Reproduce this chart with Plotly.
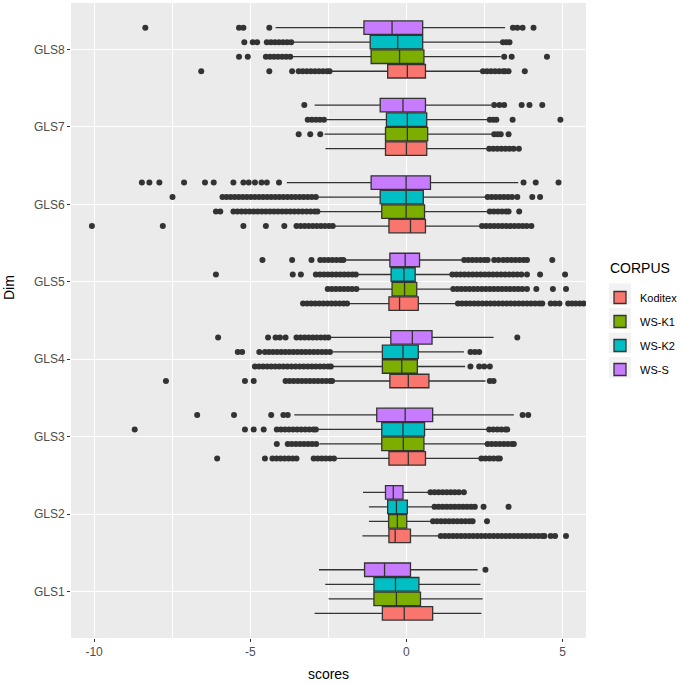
import plotly.graph_objects as go

dims = ["GLS1", "GLS2", "GLS3", "GLS4", "GLS5", "GLS6", "GLS7", "GLS8"]
corpora = ["Koditex", "WS-K1", "WS-K2", "WS-S"]
fill_colors = ["#F8766D", "#7CAE00", "#00BFC4", "#C77CFF"]

# box statistics per corpus, ordered GLS1..GLS8
koditex_q1 = [-0.77, -0.56, -0.56, -0.53, -0.56, -0.56, -0.67, -0.60]
koditex_med = [-0.07, -0.36, 0.06, 0.06, -0.22, 0.13, 0.00, 0.03]
koditex_q3 = [0.84, 0.13, 0.61, 0.72, 0.38, 0.61, 0.65, 0.61]
koditex_lo = [-2.94, -1.41, -2.27, -2.34, -1.85, -2.30, -2.59, -2.41]
koditex_hi = [2.40, 1.07, 2.33, 2.53, 1.60, 2.37, 2.60, 2.40]

wsk1_q1 = [-1.04, -0.57, -0.79, -0.77, -0.46, -0.79, -0.67, -1.13]
wsk1_med = [-0.32, -0.29, -0.10, -0.15, -0.06, -0.01, 0.03, -0.22]
wsk1_q3 = [0.45, 0.01, 0.56, 0.35, 0.33, 0.58, 0.68, 0.56]
wsk1_lo = [-2.49, -1.20, -2.79, -2.38, -1.55, -2.80, -2.62, -3.66]
wsk1_hi = [2.44, 0.79, 2.53, 1.88, 1.45, 2.60, 2.72, 3.02]

wsk2_q1 = [-1.04, -0.60, -0.79, -0.77, -0.49, -0.84, -0.64, -1.16]
wsk2_med = [-0.35, -0.32, -0.11, -0.11, -0.08, -0.01, 0.03, -0.28]
wsk2_q3 = [0.40, 0.03, 0.58, 0.38, 0.28, 0.54, 0.65, 0.52]
wsk2_lo = [-2.60, -1.20, -2.86, -2.38, -1.57, -2.86, -2.55, -3.64]
wsk2_hi = [2.37, 0.84, 2.60, 1.84, 1.42, 2.53, 2.60, 3.02]

wss_q1 = [-1.34, -0.67, -0.95, -0.50, -0.53, -1.13, -0.84, -1.36]
wss_med = [-0.70, -0.42, -0.04, 0.19, -0.04, -0.01, -0.11, -0.46]
wss_q3 = [0.13, -0.11, 0.84, 0.82, 0.42, 0.77, 0.61, 0.52]
wss_lo = [-2.80, -1.39, -3.59, -2.45, -1.99, -3.83, -2.94, -4.19]
wss_hi = [2.28, 0.72, 3.44, 2.79, 1.80, 3.58, 2.72, 3.16]

# outliers per corpus, one list per dimension GLS1..GLS8
koditex_out = [
    [],
    [1.1, 1.23, 1.36, 1.49, 1.62, 1.75, 1.88, 2.01, 2.14, 2.27, 2.4, 2.53, 2.66, 2.79, 2.92, 3.05, 3.18,
     3.31, 3.44, 3.57, 3.7, 3.83, 3.96, 4.09, 4.22, 4.35, 4.42, 4.62, 4.76, 5.11],
    [-6.06, -4.53, -4.29, -4.16, -4.03, -3.9, -3.77, -3.64, -3.52, -2.97, -2.84, -2.71, -2.58, -2.45, -2.32,
     2.40, 2.53, 2.66, 2.79, 2.92, 2.99],
    [-7.70, -5.17, -4.89, -3.87, -3.74, -3.61, -3.48, -3.35, -3.22, -3.09, -2.96, -2.83, -2.7, -2.57, -2.44,
     -2.38, 2.67, 2.79],
    [-3.31, -3.18, -3.05, -2.92, -2.79, -2.66, -2.53, -2.4, -2.27, -2.14, -2.01, -1.9,
     1.65, 1.78, 1.91, 2.04, 2.17, 2.3, 2.43, 2.56, 2.69, 2.82, 2.95, 3.08, 3.21, 3.34, 3.47, 3.6, 3.73,
     3.86, 3.99, 4.12, 4.25, 4.35, 4.62, 4.76, 4.90, 5.18, 5.3, 5.42, 5.55, 5.67],
    [-10.07, -7.80, -5.22, -4.5, -3.91, -3.52, -3.39, -3.26, -3.13, -3.0, -2.87, -2.74, -2.61, -2.48, -2.36,
     2.42, 2.55, 2.68, 2.81, 2.94, 3.07, 3.2, 3.33, 3.46, 3.59, 3.72, 3.85, 4.0],
    [2.65, 2.78, 2.91, 3.04, 3.17, 3.3, 3.43, 3.6],
    [-6.57, -4.39, -3.66, -3.45, -3.32, -3.19, -3.06, -2.93, -2.8, -2.67, -2.54, -2.46,
     2.45, 2.58, 2.71, 2.84, 2.97, 3.1, 3.16, 3.27, 3.79],
]
wsk1_out = [
    [],
    [0.85, 0.98, 1.11, 1.24, 1.37, 1.5, 1.63, 1.76, 1.89, 2.02, 2.12, 2.58],
    [-4.15, -3.80, -3.67, -3.54, -3.41, -3.28, -3.15, -3.02, -2.89,
     2.6, 2.73, 2.86, 2.99, 3.12, 3.25, 3.38, 3.44],
    [-4.85, -4.72, -4.59, -4.46, -4.33, -4.2, -4.07, -3.94, -3.81, -3.68, -3.55, -3.42, -3.29, -3.16, -3.03,
     -2.9, -2.77, -2.64, -2.51, -2.42, 2.05, 2.33, 2.49, 2.67],
    [-2.52, -2.39, -2.26, -2.13, -2.0, -1.87, -1.74, -1.6,
     1.5, 1.63, 1.76, 1.89, 2.02, 2.15, 2.28, 2.41, 2.54, 2.67, 2.8, 2.93, 3.06, 3.19, 3.32, 3.45, 3.58,
     3.71, 3.86, 4.16, 4.69, 5.11],
    [-6.10, -5.96, -5.54, -5.41, -5.28, -5.15, -5.02, -4.89, -4.76, -4.63, -4.5, -4.37, -4.24, -4.11, -3.98,
     -3.85, -3.72, -3.59, -3.46, -3.33, -3.2, -3.07, -2.94, -2.85,
     2.67, 2.8, 2.93, 3.06, 3.19, 3.27, 3.61],
    [-3.45, -3.08, -2.76, 2.81, 2.92, 3.02, 3.27],
    [-5.36, -5.08, -4.50, -4.37, -4.24, -4.11, -3.98, -3.85, -3.72, 3.13, 3.37, 4.50],
]
wsk2_out = [
    [],
    [0.9, 1.03, 1.16, 1.29, 1.42, 1.55, 1.68, 1.81, 1.94, 2.07, 2.19, 2.47, 3.27],
    [-8.70, -5.17, -4.89, -4.57, -4.15, -4.02, -3.89, -3.76, -3.63, -3.5, -3.37, -3.24, -3.11, -2.98, -2.9,
     2.65, 2.78, 2.91, 3.04, 3.17, 3.23],
    [-5.40, -5.26, -4.71, -4.53, -4.4, -4.27, -4.14, -4.01, -3.88, -3.75, -3.62, -3.49, -3.36, -3.23, -3.1,
     -2.97, -2.84, -2.71, -2.58, -2.45, 2.05, 2.19, 2.33],
    [-6.10, -3.64, -3.38, -2.90, -2.77, -2.64, -2.51, -2.38, -2.25, -2.12, -1.99, -1.86, -1.73, -1.62,
     1.47, 1.6, 1.73, 1.86, 1.99, 2.12, 2.25, 2.38, 2.51, 2.64, 2.77, 2.9, 3.03, 3.16, 3.29, 3.42, 3.55,
     3.68, 3.86, 4.28, 5.08],
    [-7.49, -5.89, -5.76, -5.63, -5.5, -5.37, -5.24, -5.11, -4.98, -4.85, -4.72, -4.59, -4.46, -4.33, -4.2,
     -4.07, -3.94, -3.81, -3.68, -3.55, -3.42, -3.29, -3.16, -3.03, -2.9,
     2.6, 2.73, 2.86, 2.99, 3.12, 3.25, 3.38, 3.55, 4.03, 4.28],
    [-3.16, -3.03, -2.9, -2.77, -2.64, 2.67, 2.78, 2.88, 3.40, 4.93],
    [-5.19, -4.92, -4.78, -4.47, -4.34, -4.21, -4.08, -3.95, -3.82, -3.69, 3.09, 3.2, 3.30],
]
wss_out = [
    [2.53],
    [0.77, 0.9, 1.03, 1.16, 1.29, 1.42, 1.55, 1.68, 1.84],
    [-6.70, -5.52, -4.33, -3.94, -3.80, 3.72, 3.90],
    [-6.03, -4.43, -4.19, -4.05, -3.87, -3.52, -3.39, -3.26, -3.13, -3.0, -2.87, -2.74, -2.61, -2.5, 3.55],
    [-4.61, -3.66, -3.04, -2.76, -2.63, -2.5, -2.37, -2.24, -2.11, -2.02,
     1.85, 1.98, 2.11, 2.24, 2.37, 2.5, 2.6, 2.81, 2.95, 3.1, 3.23, 3.36, 3.49, 3.62, 3.75, 3.86, 4.67],
    [-8.47, -8.23, -7.91, -7.12, -6.45, -6.17, -5.54, -5.22, -5.05, -4.85, -4.64, -4.47, -4.08,
     3.75, 4.14, 4.87],
    [-3.27, 2.81, 2.98, 3.13, 3.69, 3.94, 4.35],
    [-8.36, -5.36, -5.22, -4.39, 3.41, 3.55, 3.72, 4.07],
]

stats = [
    (koditex_q1, koditex_med, koditex_q3, koditex_lo, koditex_hi, koditex_out),
    (wsk1_q1, wsk1_med, wsk1_q3, wsk1_lo, wsk1_hi, wsk1_out),
    (wsk2_q1, wsk2_med, wsk2_q3, wsk2_lo, wsk2_hi, wsk2_out),
    (wss_q1, wss_med, wss_q3, wss_lo, wss_hi, wss_out),
]

n_groups = len(corpora)
dodge_total = 0.75
slot = dodge_total / n_groups
box_w = slot * 0.93
base = list(range(1, len(dims) + 1))

fig = go.Figure()
for k, (name, col, st) in enumerate(zip(corpora, fill_colors, stats)):
    q1, med, q3, lo, hi, outs = st
    off = -dodge_total / 2 + slot * (k + 0.5)
    pos = [b + off for b in base]
    fig.add_trace(go.Box(
        name=name, y=pos, q1=q1, median=med, q3=q3, lowerfence=lo, upperfence=hi,
        orientation="h", width=box_w, fillcolor=col,
        line=dict(color="#333333", width=1.3), whiskerwidth=0,
        boxpoints=False, legendgroup=name, hoverinfo="skip",
    ))
    ox, oy = [], []
    for b, vals in zip(base, outs):
        ox.extend(vals)
        oy.extend([b + off] * len(vals))
    fig.add_trace(go.Scatter(
        x=ox, y=oy, mode="markers", showlegend=False, legendgroup=name,
        marker=dict(color="#333333", size=6, line=dict(width=0)), hoverinfo="skip",
    ))

# light grey legend key backgrounds (ggplot style), in paper coordinates
W, H, ML, MB, MT = 682, 685, 71, 47, 3
pw, ph = W - ML - 96, H - MB - MT
key_shapes = []
for yc in [294, 318.5, 343, 367.5]:
    key_shapes.append(dict(
        type="rect", xref="paper", yref="paper", layer="below",
        x0=(609 - ML) / pw, x1=(631 - ML) / pw,
        y0=(H - MB - (yc - 10.5)) / ph, y1=(H - MB - (yc + 10.5)) / ph,
        fillcolor="#F2F2F2", line=dict(width=0),
    ))

fig.update_layout(
    width=W, height=H,
    margin=dict(l=ML, r=96, t=MT, b=MB, autoexpand=False),
    paper_bgcolor="white", plot_bgcolor="#EBEBEB",
    font=dict(family="Liberation Sans, Arial, sans-serif", color="#4D4D4D", size=12),
    boxmode="overlay",
    showlegend=True,
    legend=dict(
        x=(600 - ML) / pw, xanchor="left", y=(H - MB - 283) / ph, yanchor="top",
        font=dict(size=11, color="black"), tracegroupgap=5,
        bgcolor="rgba(0,0,0,0)",
    ),
    shapes=key_shapes,
    annotations=[
        dict(text="CORPUS", xref="paper", yref="paper", x=(608 - ML) / pw, y=(H - MB - 268) / ph,
             xanchor="left", yanchor="middle", showarrow=False, font=dict(size=14, color="black")),
        dict(text="Dim", xref="paper", yref="paper", x=(9 - ML) / pw, y=(H - MB - 288) / ph,
             xanchor="center", yanchor="middle", textangle=-90, showarrow=False,
             font=dict(size=14, color="black")),
    ],
    xaxis=dict(
        range=[-10.74, 5.75], tickvals=[-10, -5, 0, 5], ticktext=["-10", "-5", "0", "5"],
        showgrid=True, gridcolor="white", gridwidth=1.1, zeroline=False,
        minor=dict(tickvals=[-7.5, -2.5, 2.5], showgrid=True, gridcolor="white", gridwidth=0.5, ticks=""),
        ticks="outside", ticklen=3, tickcolor="#333333", tickwidth=1,
        title=dict(text="scores", font=dict(size=14, color="black"), standoff=10),
        tickfont=dict(size=12, color="#4D4D4D"), automargin=False,
    ),
    yaxis=dict(
        range=[0.4, 8.6], tickvals=base, ticktext=dims,
        showgrid=True, gridcolor="white", gridwidth=1.1, zeroline=False,
        ticks="outside", ticklen=3, tickcolor="#333333", tickwidth=1,
        tickfont=dict(size=12, color="#4D4D4D"), automargin=False,
    ),
)

fig.write_html("out.html", config={"displayModeBar": False},
               post_script="document.body.style.margin='0';document.body.style.padding='0';")
